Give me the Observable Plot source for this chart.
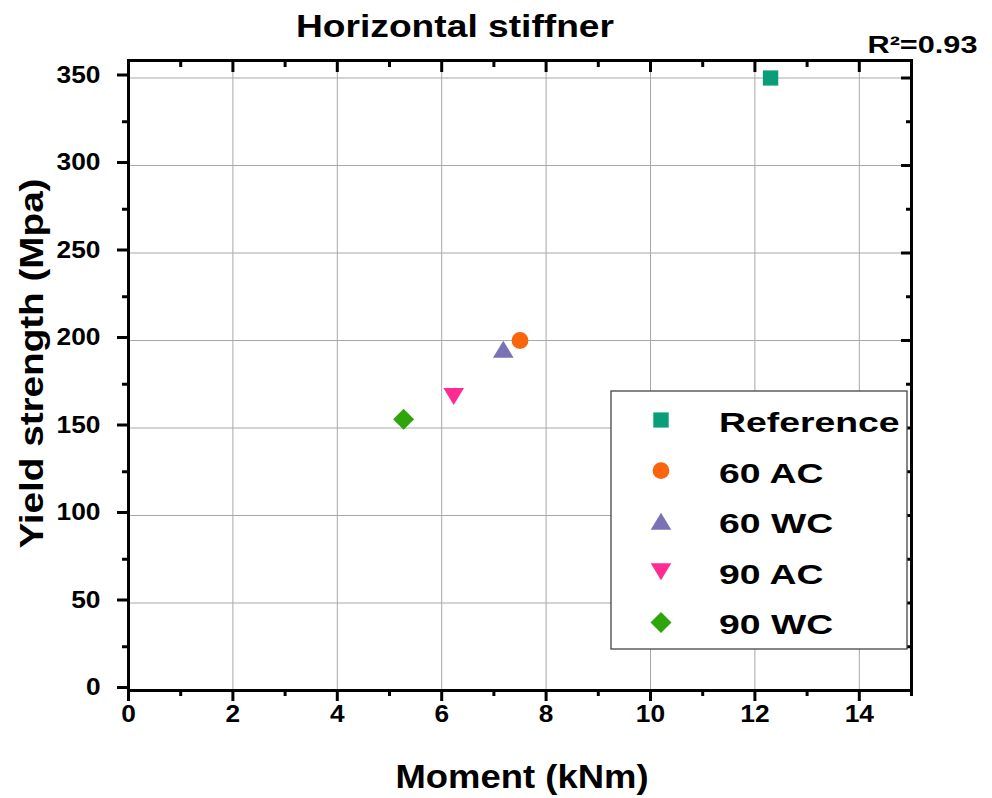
<!DOCTYPE html>
<html>
<head>
<meta charset="utf-8">
<script src="https://cdn.jsdelivr.net/npm/d3@7"></script>
<script src="https://cdn.jsdelivr.net/npm/@observablehq/plot@0.6"></script>
<style>
  html, body { margin: 0; padding: 0; background: #fff; }
  #chart { position: relative; width: 992px; height: 798px; }
</style>
</head>
<body>
<div id="chart"></div>
<script>
// Measured specimens: bending moment vs. yield strength
const series   = ["Reference", "60 AC", "60 WC", "90 AC", "90 WC"];
const moment   = [12.3, 7.5, 7.18, 6.23, 5.27];   // kNm
const strength = [350, 200, 195, 168, 155];       // MPa
const seriesColors = ["#0a9e78", "#f8650c", "#7a72b5", "#fd2b93", "#2fa50c"];

// Axis ticks
const xMajor = [0, 2, 4, 6, 8, 10, 12, 14];
const xMinor = [1, 3, 5, 7, 9, 11, 13, 15];
const yMajor = [0, 50, 100, 150, 200, 250, 300, 350];
const yMinor = [25, 75, 125, 175, 225, 275, 325];

// Texts
const titleText = "Horizontal stiffner";
const fitText = "R\u00B2=0.93";
const xLabel = "Moment (kNm)";
const yLabel = "Yield strength (Mpa)";

// Marker shapes (fixed pixel geometry, centred on the bounding box)
const shapes = [
  {draw(c) { c.rect(-7.7, -7.6, 15.4, 15.2); }},
  {draw(c) { c.moveTo(8.4, 0); c.arc(0, 0, 8.4, 0, 2 * Math.PI); }},
  {draw(c) { c.moveTo(0, -8.5); c.lineTo(10.3, 8.5); c.lineTo(-10.3, 8.5); c.closePath(); }},
  {draw(c) { c.moveTo(0, 8.5); c.lineTo(10.3, -8.5); c.lineTo(-10.3, -8.5); c.closePath(); }},
  {draw(c) { c.moveTo(0, -10.5); c.lineTo(10.5, 0); c.lineTo(0, 10.5); c.lineTo(-10.5, 0); c.closePath(); }}
];

const rows = series.map((s, i) => ({series: s, moment: moment[i], strength: strength[i]}));

const tickStyle = {strokeWidth: 3, label: null};
const labelStyle = {fontSize: 23.5, fontWeight: "bold", label: null};

const svg = Plot.plot({
  width: 992,
  height: 798,
  marginLeft: 128,
  marginRight: 81,
  marginTop: 60,
  marginBottom: 108,
  style: {fontFamily: "'Liberation Sans', Arial, Helvetica, sans-serif", background: "white", color: "black"},
  x: {domain: [0, 15]},
  y: {domain: [0, 360]},
  color: {domain: series, range: seriesColors},
  symbol: {domain: series, range: shapes},
  marks: [
    Plot.gridX(xMajor, {stroke: "#a8a8a8", strokeOpacity: 1, strokeWidth: 1}),
    Plot.gridY(yMajor, {stroke: "#a8a8a8", strokeOpacity: 1, strokeWidth: 1}),
    Plot.frame({stroke: "black", strokeWidth: 3}),
    // bottom & left: outward ticks with labels
    Plot.axisX(xMajor, {anchor: "bottom", tickSize: 11, tickPadding: 4, ...tickStyle, ...labelStyle}),
    Plot.axisX(xMinor, {anchor: "bottom", tickSize: 6, text: null, ...tickStyle}),
    Plot.axisY(yMajor, {anchor: "left", tickSize: 11, tickPadding: 17, dy: -3, ...tickStyle, ...labelStyle}),
    Plot.axisY(yMinor, {anchor: "left", tickSize: 6, text: null, ...tickStyle}),
    // top & right: inward ticks only
    Plot.axisX(xMajor, {anchor: "top", tickSize: -11, text: null, ...tickStyle}),
    Plot.axisX(xMinor, {anchor: "top", tickSize: -6, text: null, ...tickStyle}),
    Plot.axisY(yMajor, {anchor: "right", tickSize: -11, text: null, ...tickStyle}),
    Plot.axisY(yMinor, {anchor: "right", tickSize: -6, text: null, ...tickStyle}),
    // data points
    Plot.dot(rows, {x: "moment", y: "strength", symbol: "series", fill: "series", stroke: null}),
    // titles and labels
    Plot.text([titleText], {text: d => d, frameAnchor: "top", dx: -65, dy: -24, lineAnchor: "bottom",
      fontSize: 32, fontWeight: "bold"}),
    Plot.text([fitText], {text: d => d, frameAnchor: "top-right", dx: -44, dy: -8, lineAnchor: "bottom",
      textAnchor: "start", fontSize: 24, fontWeight: "bold"}),
    Plot.text([xLabel], {text: d => d, frameAnchor: "bottom", dx: 2, dy: 97, lineAnchor: "bottom",
      fontSize: 34, fontWeight: "bold"}),
    Plot.text([yLabel], {text: d => d, frameAnchor: "left", dx: -86, dy: -12, rotate: -90, lineAnchor: "bottom",
      textAnchor: "middle", fontSize: 34, fontWeight: "bold"})
  ]
});

document.getElementById("chart").appendChild(svg);

// The lettering is drawn wider than the font's natural advance
const root = d3.select(svg);
function widen(node, factor) {
  const w = node.getComputedTextLength();
  node.setAttribute("textLength", (w * factor).toFixed(1));
  node.setAttribute("lengthAdjust", "spacingAndGlyphs");
}
function fitWidth(node, width) {
  node.setAttribute("textLength", width);
  node.setAttribute("lengthAdjust", "spacingAndGlyphs");
}
const tickLabels = new Set([...xMajor, ...yMajor].map(String));
const fixedWidths = new Map([[titleText, 318], [fitText, 110], [xLabel, 253], [yLabel, 370]]);
root.selectAll("text").each(function () {
  const t = this.textContent;
  if (fixedWidths.has(t)) fitWidth(this, fixedWidths.get(t));
  else if (tickLabels.has(t)) widen(this, 1.12);
});

// Legend box inside the plot area, lower right
const legend = root.append("g").attr("aria-label", "legend").attr("transform", "translate(611,391)");
legend.append("rect")
  .attr("width", 296).attr("height", 258)
  .attr("fill", "white").attr("stroke", "#444").attr("stroke-width", 1.3);
series.forEach((name, i) => {
  const row = legend.append("g").attr("transform", `translate(0,${41 + i * 50.6})`);
  row.append("path")
    .attr("d", d3.symbol(shapes[i])())
    .attr("transform", "translate(50,-12)")
    .attr("fill", seriesColors[i]);
  const label = row.append("text")
    .attr("x", 108)
    .attr("text-anchor", "start")
    .attr("font-size", 28.5)
    .attr("font-weight", "bold")
    .attr("fill", "black")
    .text(name);
  widen(label.node(), 1.31);
});
</script>
</body>
</html>
